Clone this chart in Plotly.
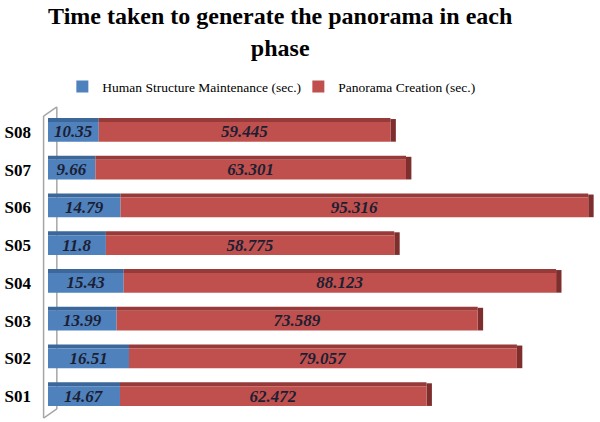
import plotly.graph_objects as go

categories = ["S01", "S02", "S03", "S04", "S05", "S06", "S07", "S08"]
hsm = [14.67, 16.51, 13.99, 15.43, 11.8, 14.79, 9.66, 10.35]
pano = [62.472, 79.057, 73.589, 88.123, 58.775, 95.316, 63.301, 59.445]
series_names = ["Human Structure Maintenance (sec.)", "Panorama Creation (sec.)"]
title_text = "Time taken to generate the panorama in each<br>phase"

BLUE, BLUE_TOP = "#4F81BD", "#3C679B"
RED, RED_TOP, RED_SIDE = "#C0504D", "#963B39", "#7E2F2D"
FONT = "Liberation Serif"
LABEL_COLOR = "#1C1F33"

totals = [a + b for a, b in zip(hsm, pano)]

fig = go.Figure()
label_font = dict(family=FONT, size=17, color=LABEL_COLOR, weight="bold", style="italic")

# top faces (3D look)
fig.add_trace(go.Bar(y=categories, x=hsm, base=[0] * len(hsm), orientation="h",
                     width=0.11, offset=0.26, marker=dict(color=BLUE_TOP, line_width=0),
                     showlegend=False, hoverinfo="skip"))
fig.add_trace(go.Bar(y=categories, x=pano, base=hsm, orientation="h",
                     width=0.11, offset=0.26, marker=dict(color=RED_TOP, line_width=0),
                     showlegend=False, hoverinfo="skip"))
# side face at bar end
fig.add_trace(go.Bar(y=categories, x=[1.1] * len(totals), base=totals, orientation="h",
                     width=0.6, offset=-0.26, marker=dict(color=RED_SIDE, line_width=0),
                     showlegend=False, hoverinfo="skip"))

# front faces
fig.add_trace(go.Bar(y=categories, x=hsm, base=[0] * len(hsm), orientation="h",
                     width=0.52, offset=-0.26, name=series_names[0],
                     marker=dict(color=BLUE, line_width=0),
                     text=[f"{v:g}" for v in hsm], textposition="inside",
                     insidetextanchor="middle", textangle=0, textfont=label_font))
fig.add_trace(go.Bar(y=categories, x=pano, base=hsm, orientation="h",
                     width=0.52, offset=-0.26, name=series_names[1],
                     marker=dict(color=RED, line_width=0),
                     text=[f"{v:g}" for v in pano], textposition="inside",
                     insidetextanchor="middle", textangle=0, textfont=label_font))

# 3D wall lines (decoration)
wall = dict(type="line", xref="paper", yref="paper", layer="below",
            line=dict(color="#A6A6A6", width=1.5))
shapes = [
    dict(wall, x0=-0.008, x1=-0.008, y0=-0.01, y1=0.99),
    dict(wall, x0=-0.008, x1=0.016, y0=0.99, y1=1.02),
    dict(wall, x0=0.016, x1=0.016, y0=0.02, y1=1.02),
    dict(wall, x0=-0.008, x1=0.016, y0=-0.01, y1=0.02),
]

fig.update_layout(
    width=600, height=422,
    margin=dict(l=48, r=0, t=113, b=7, autoexpand=False),
    paper_bgcolor="white", plot_bgcolor="white",
    barmode="overlay",
    title=dict(text=title_text, x=0.467, xanchor="center", y=0.942, yanchor="middle",
               xref="container", yref="container",
               font=dict(family=FONT, size=24, color="black", weight="bold")),
    legend=dict(orientation="h", x=0.026, xanchor="left", y=1.087, yanchor="middle",
                font=dict(family=FONT, size=13.5, color="black"), itemwidth=30,
                entrywidth=191, entrywidthmode="pixels",
                traceorder="normal"),
    xaxis=dict(range=[0, 112.5], visible=False),
    yaxis=dict(categoryorder="array", categoryarray=categories, range=[-0.5, 7.5],
               showgrid=False, zeroline=False, showline=False, ticks="", automargin=False,
               tickfont=dict(family=FONT, size=17, color="black", weight="bold"),
               ticklabelstandoff=16),
    uniformtext=dict(minsize=17, mode="show"),
    shapes=shapes,
    showlegend=True,
)

fig.write_html("out.html", config={"displayModeBar": False},
               post_script="document.body.style.margin='0';")
